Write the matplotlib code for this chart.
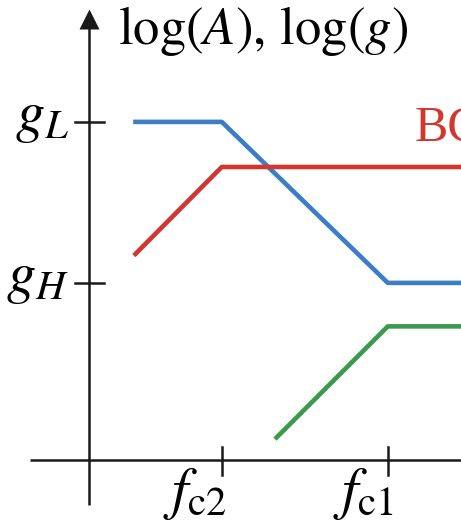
import matplotlib
matplotlib.use("Agg")
import matplotlib.pyplot as plt

plt.rcParams['mathtext.fontset'] = 'stix'
plt.rcParams['font.family'] = ['Liberation Serif', 'DejaVu Serif']

# asymptotic Bode-style curves, x = log(f), y = log(A) / log(g)
f_c2 = 0.8
f_c1 = 1.8
g_H = 1.1
g_L = 2.1

blue_x = [0.28, 0.8, 1.8, 2.4]
blue_y = [2.1, 2.1, 1.1, 1.1]
red_x = [0.28, 0.8, 2.4]
red_y = [1.28, 1.82, 1.82]
green_x = [1.13, 1.8, 2.4]
green_y = [0.14, 0.83, 0.83]

xticks = [f_c2, f_c1]
xtick_labels = [r'$f_{\mathrm{c2}}$', r'$f_{\mathrm{c1}}$']
yticks = [g_H, g_L]
ytick_labels = [r'$g_H$', r'$g_L$']

fig = plt.figure(figsize=(4.61, 5.27), dpi=100)
ax = fig.add_axes([0, 0, 1, 1])
ax.set_xlim(-0.536, 2.241)
ax.set_ylim(-0.416, 2.857)
ax.axis('off')

# axes
ax.plot([-0.355, 2.4], [0, 0], color='#1a1a1a', lw=1.8, solid_capstyle='butt')
ax.plot([0, 0], [-0.28, 2.72], color='#1a1a1a', lw=1.8, solid_capstyle='butt')
ax.plot([0], [2.74], marker='^', markersize=15, color='#1a1a1a', mec='none')

# ticks
for xt, lab in zip(xticks, xtick_labels):
    ax.plot([xt, xt], [-0.09, 0.08], color='#1a1a1a', lw=1.8)
    ax.text(xt + 0.035, -0.03, lab, ha='right', va='top', fontsize=42)
for yt, lab in zip(yticks, ytick_labels):
    ax.plot([-0.085, 0.09], [yt, yt], color='#1a1a1a', lw=1.8)
    ax.text(-0.12, yt + 0.02, lab, ha='right', va='center', fontsize=42)

ax.plot(blue_x, blue_y, color='#3b7ec6', lw=3.3)
ax.plot(red_x, red_y, color='#d1372e', lw=3.3)
ax.plot(green_x, green_y, color='#3a9a4b', lw=3.3)

ax.text(0.175, 2.665, r'$\mathrm{log}(A),\,\mathrm{log}(g)$', ha='left', va='center',
        fontsize=38)
ax.text(1.96, 2.06, 'BC', color='#d1372e', ha='left', va='center', fontsize=36)

fig.savefig('out.png', dpi=100)
